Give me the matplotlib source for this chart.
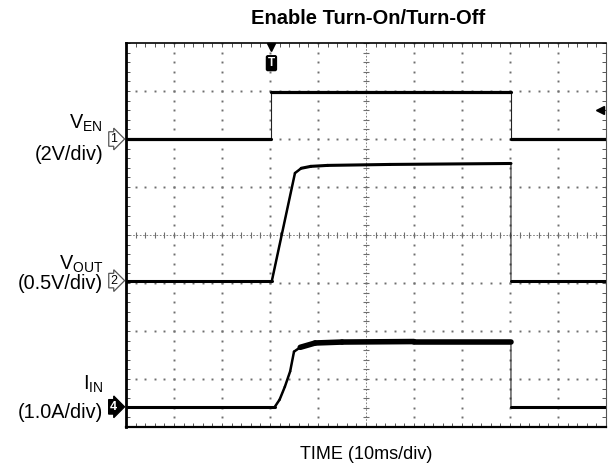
import numpy as np
import matplotlib
matplotlib.use("Agg")
import matplotlib.pyplot as plt

plt.rcParams['font.family'] = ['Liberation Sans', 'DejaVu Sans']
plt.rcParams['mathtext.fontset'] = 'custom'
plt.rcParams['mathtext.rm'] = 'Liberation Sans'
plt.rcParams['mathtext.it'] = 'Liberation Sans'

# scope screen: 10 divisions of 10 ms, 8 vertical divisions
ms_per_div = 10.0
trig_time = 30.3        # ms from left edge of the screen
trig_level = 2.6        # div (channel 1 level marker on the right)

# channel 1 : enable, 2 V/div
t_en = [0, 30.3, 30.3, 80.2, 80.2, 100]
v_en = [0, 0, 1.96, 1.96, 0, 0]
en_scale, en_offset = 2.0, 2.0

# channel 2 : output voltage, 0.5 V/div
t_out = [0, 30.4, 35.2, 36.5, 38.5, 42, 55, 80.2, 80.2, 100]
v_out = [0, 0, 1.12, 1.17, 1.19, 1.20, 1.21, 1.22, 0, 0]
out_scale, out_offset = 0.5, -0.95

# channel 4 : input current, 1.0 A/div
t_in = [0, 31.0, 32.0, 33.1, 34.2, 35.0, 36.3, 39.4, 45, 60, 80.2, 80.2, 100]
i_in = [0, 0, 0.15, 0.42, 0.74, 1.15, 1.24, 1.33, 1.35, 1.36, 1.36, 0, 0]
in_scale, in_offset = 1.0, -3.58

fig = plt.figure(figsize=(6.1, 4.66), dpi=100)
ax = fig.add_axes([126 / 610, 1 - 427 / 466, 480 / 610, 384 / 466])
ax.set_xlim(0, 100)
ax.set_ylim(-4, 4)

grid_c = '#6e6e6e'
# dotted graticule
for k in range(1, 10):
    if k == 5:
        continue
    ys = np.arange(-4, 4.01, 0.2)
    ax.plot(np.full(ys.size, k * ms_per_div), ys, ls='none', marker='s',
            ms=1.4, color=grid_c, mew=0)
for k in range(-3, 4):
    if k == 0:
        continue
    xs = np.arange(0, 100.01, 2)
    ax.plot(xs, np.full(xs.size, k), ls='none', marker='s', ms=1.4,
            color=grid_c, mew=0)

# centre cross with small ticks
ax.axvline(50, color=grid_c, lw=0.6, ls=(0, (2, 2)))
ax.axhline(0, color=grid_c, lw=0.6, ls=(0, (2, 2)))
ys = np.arange(-4, 4.01, 0.2)
ax.plot(np.full(ys.size, 50), ys, ls='none', marker='_', ms=4, mew=0.8, color=grid_c)
xs = np.arange(0, 100.01, 2)
ax.plot(xs, np.zeros(xs.size), ls='none', marker='|', ms=4, mew=0.8, color=grid_c)

# border ticks
ax.set_xticks(np.arange(0, 100.01, 2))
ax.set_yticks(np.arange(-4, 4.01, 0.2))
ax.tick_params(direction='in', length=3, width=0.7, color='#555555',
               top=True, right=True, labelbottom=False, labelleft=False)
ax.spines['left'].set_linewidth(2.0)
ax.spines['bottom'].set_linewidth(1.6)
ax.spines['top'].set_linewidth(1.2)
ax.spines['right'].set_linewidth(0.8)
ax.spines['right'].set_color('#555555')


def draw_trace(t, v, scale, offset, flat_lw, high_lw=None):
    y = [offset + val / scale for val in v]
    ax.plot(t, y, color='#222222', lw=0.8, zorder=3)
    for i in range(len(t) - 1):
        if t[i + 1] <= t[i]:
            continue
        slope = abs(y[i + 1] - y[i]) / ((t[i + 1] - t[i]) / ms_per_div)
        lw = flat_lw if slope < 0.5 else 1.8
        if high_lw is not None and slope < 0.5 and min(v[i], v[i + 1]) > 0.5:
            lw = high_lw
        ax.plot(t[i:i + 2], y[i:i + 2], color='black', lw=lw,
                solid_capstyle='round', zorder=4)


draw_trace(t_en, v_en, en_scale, en_offset, 2.3)
draw_trace(t_out, v_out, out_scale, out_offset, 2.2)
draw_trace(t_in, i_in, in_scale, in_offset, 2.2, high_lw=4.0)

# trigger marker on top, level marker on right
ax.plot([trig_time], [3.91], marker='v', ms=6, color='black', clip_on=False, zorder=5)
ax.text(trig_time, 3.58, 'T', ha='center', va='center', color='white',
        fontsize=8.5, fontweight='bold',
        bbox=dict(boxstyle='round,pad=0.12', fc='black', ec='black'), zorder=5)
ax.plot([98.8], [trig_level], marker='<', ms=6, color='black', zorder=5)
ax.plot([98.8, 99.6], [trig_level, trig_level], color='black', lw=1.0, zorder=5)

# channel markers and labels
yt = ax.get_yaxis_transform()
px = 1 / 480
chans = [('1', en_offset, False), ('2', out_offset, False), ('4', in_offset, True)]
for num, off, filled in chans:
    ax.text(-9 * px, off, num, transform=yt, ha='right', va='center',
            fontsize=9, color='white' if filled else 'black', clip_on=False,
            fontweight='bold' if filled else 'normal',
            bbox=dict(boxstyle='rarrow,pad=0.1', fc='black' if filled else 'white',
                      ec='black' if filled else '#555555', lw=0.9))

labels = [(r'$\mathrm{V}_{\mathrm{EN}}$', '(2V/div)', en_offset, 0.21, -0.44),
          (r'$\mathrm{V}_{\mathrm{OUT}}$', '(0.5V/div)', out_offset, 0.23, -0.17),
          (r'$\mathrm{I}_{\mathrm{IN}}$', '(1.0A/div)', in_offset, 0.35, -0.23)]
for top, bottom, off, dy1, dy2 in labels:
    ax.text(-23 * px, off + dy1, top, transform=yt, ha='right', va='baseline',
            fontsize=14.3, clip_on=False)
    ax.text(-23 * px, off + dy2, bottom, transform=yt, ha='right', va='baseline',
            fontsize=14.3, clip_on=False)

fig.text(368 / 610, 1 - 18 / 466, 'Enable Turn-On/Turn-Off', ha='center', va='center',
         fontsize=14.5, fontweight='bold')
fig.text(366 / 610, 1 - 459 / 466, 'TIME (10ms/div)', ha='center', va='baseline',
         fontsize=13)

fig.savefig('out.png', dpi=100)
